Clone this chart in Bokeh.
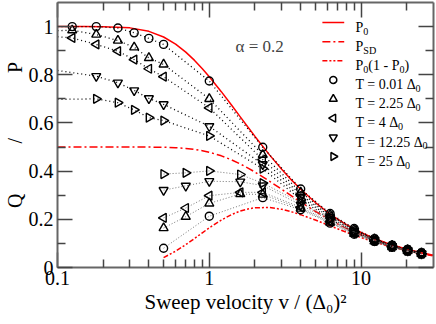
import math
from bokeh.plotting import figure
from bokeh.models import (FixedTicker, CustomJSTickFormatter, LinearAxis, LogAxis, Label)
from bokeh.embed import file_html
from bokeh.resources import INLINE

FONT = "Liberation Serif"

# ---------------- data ----------------
X_TICKS = [0.1, 1, 10]
X_MINOR = [0.2, 0.3, 0.4, 0.5, 0.6, 0.7, 0.8, 0.9, 2, 3, 4, 5, 6, 7, 8, 9, 20]
Y_TICKS = [0, 0.2, 0.4, 0.6, 0.8, 1.0]
Y_MINOR = [0.1, 0.3, 0.5, 0.7, 0.9]

# theory curves
v_theory = [0.1, 0.15, 0.2, 0.3, 0.4, 0.5, 0.6, 0.7, 0.8, 0.9, 1.0, 1.2, 1.4, 1.6, 1.8, 2.0,
            2.5, 3.0, 3.5, 4.0, 5.0, 6.0, 7.0, 8.0, 10.0, 12.0, 15.0, 20.0, 25.0, 30.0]
p0 = [1.0, 1.0, 0.9996, 0.9947, 0.9803, 0.9568, 0.9271, 0.8940, 0.8596, 0.8254, 0.7921,
      0.7299, 0.6744, 0.6253, 0.5822, 0.5441, 0.4665, 0.4076, 0.3616, 0.3248, 0.2696,
      0.2303, 0.2010, 0.1783, 0.1454, 0.1227, 0.0994, 0.0755, 0.0609, 0.0510]
psd = [0.5, 0.5, 0.5, 0.5, 0.4998, 0.4991, 0.4973, 0.4944, 0.4902, 0.4848, 0.4784,
       0.4635, 0.4470, 0.4298, 0.4127, 0.3961, 0.3577, 0.3246, 0.2962, 0.2721, 0.2333,
       0.2038, 0.1808, 0.1624, 0.1348, 0.1151, 0.0944, 0.0727, 0.0590, 0.0497]
v_qp = [0.5, 0.6, 0.7, 0.8, 0.9, 1.0, 1.2, 1.4, 1.6, 1.8, 2.0, 2.5, 3.0, 3.5, 4.0, 5.0,
        6.0, 7.0, 8.0, 10.0, 12.0, 15.0, 20.0, 25.0, 30.0]
p0q = [0.0413, 0.0676, 0.0948, 0.1207, 0.1441, 0.1647, 0.1971, 0.2196, 0.2343, 0.2432,
       0.2481, 0.2489, 0.2415, 0.2308, 0.2193, 0.1969, 0.1773, 0.1606, 0.1465, 0.1243,
       0.1076, 0.0895, 0.0698, 0.0572, 0.0484]

# upper branch (P); first point is the curve's value at the left edge (no marker)
v_p = [0.1, 0.125, 0.18, 0.25, 0.32, 0.4, 0.5, 1.0, 2.25, 4.0, 6.25, 9.0, 12.25, 16.0, 20.25, 25.0]
p_t001 = [1.0, 1.0, 1.0, 0.994, 0.974, 0.951, 0.926, 0.774, 0.499, 0.326, 0.224, 0.162, 0.120, 0.093, 0.075, 0.061]
p_t225 = [0.983, 0.985, 0.967, 0.942, 0.914, 0.870, 0.843, 0.700, 0.468, 0.312, 0.218, 0.158, 0.118, 0.091, 0.073, 0.060]
p_t4 = [0.958, 0.953, 0.926, 0.898, 0.863, 0.825, 0.792, 0.663, 0.448, 0.302, 0.213, 0.155, 0.116, 0.090, 0.072, 0.059]
v_p2 = [0.1, 0.18, 0.25, 0.32, 0.4, 0.5, 1.0, 2.25, 4.0, 6.25, 9.0, 12.25, 16.0, 20.25, 25.0]
p_t1225 = [0.818, 0.794, 0.767, 0.735, 0.702, 0.677, 0.586, 0.428, 0.292, 0.208, 0.152, 0.114, 0.088, 0.071, 0.058]
p_t25 = [0.698, 0.700, 0.684, 0.654, 0.622, 0.610, 0.546, 0.410, 0.282, 0.202, 0.148, 0.112, 0.086, 0.070, 0.057]

# lower branch (Q)
v_q1 = [0.5, 1.0, 2.25, 4.0, 6.25, 9.0, 12.25, 16.0, 20.25, 25.0]
q_t001 = [0.080, 0.213, 0.290, 0.240, 0.184, 0.138, 0.108, 0.084, 0.068, 0.056]
v_q = [0.5, 0.7, 1.0, 1.6, 2.25, 4.0, 6.25, 9.0, 12.25, 16.0, 20.25, 25.0]
q_t225 = [0.164, 0.211, 0.266, 0.305, 0.303, 0.245, 0.187, 0.140, 0.109, 0.085, 0.069, 0.056]
q_t4 = [0.206, 0.247, 0.298, 0.312, 0.312, 0.250, 0.190, 0.142, 0.110, 0.086, 0.069, 0.057]
q_t1225 = [0.321, 0.339, 0.358, 0.356, 0.340, 0.260, 0.195, 0.145, 0.112, 0.087, 0.070, 0.057]
q_t25 = [0.388, 0.393, 0.401, 0.386, 0.350, 0.270, 0.200, 0.148, 0.113, 0.088, 0.071, 0.058]

T_LABELS = ["0.01", "2.25", "4", "12.25", "25"]
ALPHA_TEXT = "α = 0.2"
X_LABEL = "Sweep velocity v / (Δ\u2080)\u00b2"
NB = "\u00a0"
Y_LABEL = "Q" + NB * 10 + "/" + NB * 13 + "P"

# ---------------- figure ----------------
W, H = 436, 324
ML, MR, MT, MB = 54, 3, 2, 57
FW, FH = W - ML - MR, H - MT - MB
X0, X1, Y0, Y1 = 0.1, 30.0, 0.0, 1.1

p = figure(width=W, height=H, x_axis_type="log", x_range=(X0, X1), y_range=(Y0, Y1),
           output_backend="svg", toolbar_location=None,
           min_border_left=ML, min_border_right=MR, min_border_top=MT, min_border_bottom=MB)
p.xgrid.visible = False
p.ygrid.visible = False
p.outline_line_color = None
p.background_fill_color = "white"
p.border_fill_color = "white"

x_ticker = FixedTicker(ticks=X_TICKS, minor_ticks=X_MINOR)
y_ticker = FixedTicker(ticks=Y_TICKS, minor_ticks=Y_MINOR)


def style_axis(ax, show_labels):
    ax.axis_line_color = "#666666"
    ax.axis_line_width = 2
    ax.major_tick_line_color = "#444444"
    ax.major_tick_line_width = 1.5
    ax.minor_tick_line_color = "#444444"
    ax.minor_tick_line_width = 1.5
    ax.major_tick_in = 15
    ax.major_tick_out = 0
    ax.minor_tick_in = 8
    ax.minor_tick_out = 0
    ax.major_label_text_font = FONT
    ax.major_label_text_color = "black"
    ax.axis_label_text_font = FONT
    ax.axis_label_text_font_style = "normal"
    ax.axis_label_text_color = "black"
    if show_labels:
        ax.major_label_text_font_size = "20px"
    else:
        ax.major_label_text_font_size = "0px"
        ax.major_label_standoff = 0


xa = p.xaxis[0]
xa.ticker = x_ticker
xa.formatter = CustomJSTickFormatter(code="return String(tick)")
style_axis(xa, True)
xa.major_label_standoff = 3
xa.axis_label = X_LABEL
xa.axis_label_text_font_size = "21px"
xa.axis_label_standoff = 2

ya = p.yaxis[0]
ya.ticker = y_ticker
ya.formatter = CustomJSTickFormatter(code="return String(Math.round(tick*10)/10)")
style_axis(ya, True)
ya.major_label_standoff = 4
ya.axis_label = Y_LABEL
ya.axis_label_text_font_size = "20px"
ya.axis_label_standoff = 0

top = LogAxis(ticker=x_ticker, formatter=CustomJSTickFormatter(code="return ''"))
style_axis(top, False)
p.add_layout(top, "above")
right = LinearAxis(ticker=y_ticker, formatter=CustomJSTickFormatter(code="return ''"))
style_axis(right, False)
p.add_layout(right, "right")

# theory curves
RED_STYLES = [dict(), dict(line_dash="8 3 2 3"), dict(line_dash="5 2 2 2 2 2")]
p.line(v_theory, p0, line_color="red", line_width=1.5, **RED_STYLES[0])
p.line(v_theory, psd, line_color="red", line_width=1.5, **RED_STYLES[1])
p.line(v_qp, p0q, line_color="red", line_width=1.5, **RED_STYLES[2])

HALF_PI = math.pi / 2
MARKERS = [("circle", 0.0, 8), ("triangle", 0.0, 9), ("triangle", HALF_PI, 9),
           ("inverted_triangle", 0.0, 9), ("triangle", -HALF_PI, 9)]
series = [
    (v_p, p_t001, v_q1, q_t001),
    (v_p, p_t225, v_q, q_t225),
    (v_p, p_t4, v_q, q_t4),
    (v_p2, p_t1225, v_q, q_t1225),
    (v_p2, p_t25, v_q, q_t25),
]
for (vu, yu, vl, yl), (mk, ang, sz) in zip(series, MARKERS):
    p.line(vu, yu, line_color="black", line_width=1.3, line_dash="1 3")
    p.line(vl, yl, line_color="#777777", line_width=1.0, line_dash="1 2")
    p.scatter(vu[1:], yu[1:], marker=mk, angle=ang, size=sz, fill_color=None,
              line_color="black", line_width=1.4)
    p.scatter(vl, yl, marker=mk, angle=ang, size=sz, fill_color=None,
              line_color="black", line_width=1.4)

# ---------------- legend (drawn by hand, frame-relative screen positions) ----------------
LX0, LX1 = math.log10(X0), math.log10(X1)


def sx2x(sx):          # px from frame left -> data x
    return 10 ** (LX0 + sx / FW * (LX1 - LX0))


def sy2y(sy):          # px from frame top -> data y
    return Y0 + (FH - sy) / FH * (Y1 - Y0)


ROW0, ROW = 20.0, 19.14   # first row centre from frame top, row pitch
LINE_A, LINE_B, MARK_X, TEXT_X = 267, 289, 278, 298

for i, st in enumerate(RED_STYLES):
    yy = sy2y(ROW0 + ROW * i)
    p.line([sx2x(LINE_A), sx2x(LINE_B)], [yy, yy], line_color="red", line_width=1.5, **st)
for j, (mk, ang, sz) in enumerate(MARKERS):
    yy = sy2y(ROW0 + ROW * (3 + j))
    p.scatter([sx2x(MARK_X)], [yy], marker=mk, angle=ang, size=sz - 1, fill_color=None,
              line_color="black", line_width=1.5)

WID = {'P': 0.556, 'S': 0.556, 'D': 0.722, 'T': 0.611, '(': 0.333, ')': 0.333, ' ': 0.25,
       '-': 0.333, '=': 0.564, '.': 0.25, 'Δ': 0.612}


def twidth(s):
    return sum(WID.get(ch, 0.5) for ch in s)


def rich(segs, x, y, size):
    for txt, kind in segs:
        fs = size if kind == "n" else size * 0.72
        dy = 0 if kind == "n" else -size * 0.28
        p.add_layout(Label(x=x, y=y + dy, x_units="screen", y_units="screen", text=txt,
                           text_font=FONT, text_font_size=f"{fs:.1f}px",
                           text_baseline="alphabetic", text_align="left",
                           text_color="black"))
        x += twidth(txt) * fs


legend_texts = [
    [("P", "n"), ("0", "sub")],
    [("P", "n"), ("SD", "sub")],
    [("P", "n"), ("0", "sub"), ("(1 - P", "n"), ("0", "sub"), (")", "n")],
] + [[(f"T = {t} Δ", "n"), ("0", "sub")] for t in T_LABELS]

for i, segs in enumerate(legend_texts):
    baseline_from_top = ROW0 + ROW * i + 4.7
    rich(segs, TEXT_X, FH - baseline_from_top, 14)

# alpha annotation
p.add_layout(Label(x=178, y=FH - 44, x_units="screen", y_units="screen", text=ALPHA_TEXT,
                   text_font=FONT, text_font_size="17px", text_baseline="alphabetic"))

with open("out.html", "w", encoding="utf-8") as f:
    f.write(file_html(p, INLINE))
